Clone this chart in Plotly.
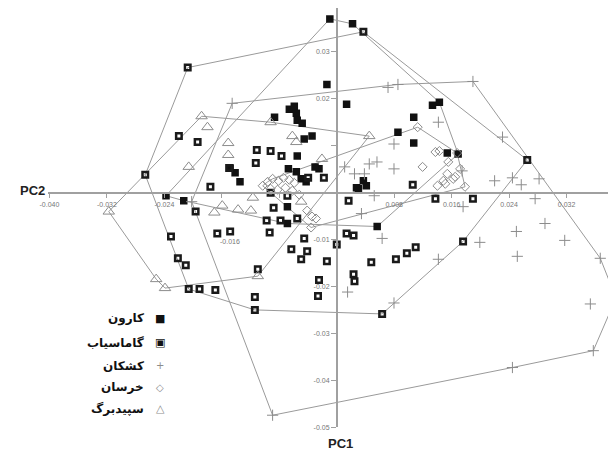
import plotly.graph_objects as go

# ---- data (PC2 on horizontal axis, PC1 on vertical axis) ----
karun_x = [-0.00096, 0.0022, -0.00137, 0.00137, 0.01333, 0.01429, 0.01072, 0.00852, 0.01072,
           0.01539, 0.0169, 0.00371, 0.00302, 0.00412, 0.00275, -0.00247, -0.00302, -0.00426,
           -0.0066, -0.00591, -0.00563, -0.0055, -0.00481, -0.00866, -0.00453, -0.00344,
           -0.0055, -0.00673, -0.00563, -0.00495, -0.01484, -0.01415, -0.01347, -0.02377,
           -0.0213, -0.00687, -0.00687, 0.00563]
karun_y = [0.03698, 0.03592, 0.02301, 0.01878, 0.01857, 0.0192, 0.01603, 0.01285, 0.01053,
           0.00841, 0.0082, 0.00249, 0.00079, 0.00143, 0.001, 0.00503, 0.00545, 0.00227,
           0.01772, 0.01836, 0.01688, 0.01539, 0.01476, 0.01603, 0.01137, 0.01201,
           0.00778, 0.00503, 0.00439, 0.00291, 0.00524, 0.00418, 0.00227, -0.00069,
           -0.00175, -0.00302, -0.00661, -0.00725]

gamasiab_x = [-0.02075, 0.00371, 0.02652, -0.02198, -0.01937, -0.02666, -0.01759, -0.01965,
              -0.01113, -0.00921, -0.01127, -0.00769, -0.01498, -0.00921, -0.00879, -0.00976,
              -0.00783, -0.0055, -0.00398, -0.00179, -0.02308, -0.02212, -0.02102, -0.02061,
              -0.0191, -0.0169, -0.0114, -0.0114, -0.01099, -0.01663, -0.01484, -0.00934,
              -0.00453, -0.00632, -0.00412, -0.00495, 0.00165, -0.00137, 0.0, 0.00137,
              0.00234, 0.00481, 0.00824, 0.00976, 0.01099, 0.01759, 0.00234, 0.00247,
              -0.00247, -0.00261, 0.00632, 0.01058, 0.01896, 0.01374, -0.00687]
gamasiab_y = [0.02661, 0.03423, 0.00693, 0.01201, 0.01074, 0.00376, 0.00122, -0.00407,
              0.00905, 0.00883, 0.0063, 0.00778, 0.00524, -0.00005, -0.00323, -0.00598,
              -0.00598, -0.00555, 0.00312, 0.00312, -0.00936, -0.01402, -0.0155, -0.02058,
              -0.02058, -0.02079, -0.02227, -0.02502, -0.01635, -0.00873, -0.00831, -0.00852,
              -0.00979, -0.01211, -0.01254, -0.01423, -0.00175, -0.01465, -0.01106, -0.00873,
              -0.00915, -0.01486, -0.01423, -0.01296, -0.01169, -0.01042, -0.0174, -0.01889,
              -0.01867, -0.02206, -0.02587, 0.00164, -0.00132, -0.00132, -0.00069]

kashkan_x = [-0.01456, 0.01896, 0.03888, 0.03572, -0.00893, -0.0202, 0.00714, 0.00852, 0.01415,
             0.02308, 0.00797, 0.0011, 0.00247, 0.00385, 0.00453, 0.02198, 0.02446, 0.02569,
             0.02817, 0.01745, 0.00522, 0.02762, 0.02899, 0.01759, 0.02501, 0.01992, 0.02514,
             0.03174, 0.03669, 0.03531, 0.01415, 0.00797, 0.00151, 0.00632, 0.02446, 0.00344,
             0.00797, 0.0056]
kashkan_y = [0.01899, 0.02365, -0.02248, -0.0337, -0.04745, -0.00196, 0.02238, 0.02301, 0.01497,
             0.0118, 0.01032, 0.00545, 0.00397, 0.00397, 0.00608, 0.00249, 0.00312, 0.00164,
             0.00291, 0.0046, -0.00069, -0.00132, -0.00661, -0.00302, -0.00831, -0.01063, -0.0136,
             -0.01021, -0.01402, -0.02375, -0.01423, -0.02354, -0.02121, -0.00979, -0.03729, -0.0045,
             0.00503, 0.0065]

khersan_x = [-0.01031, -0.00962, -0.00893, -0.00811, -0.00742, -0.0066, -0.00591, -0.00921,
             -0.00824, -0.00714, -0.00618, -0.00522, -0.00412, -0.00289, -0.00357, -0.00344,
             0.01127, 0.01195, 0.01374, 0.01429, 0.01553, 0.01718, 0.01539, 0.01621, 0.01484,
             0.01402, 0.01511, 0.01786, 0.01676, 0.01649]
khersan_y = [0.00143, 0.00227, 0.00291, 0.00249, 0.00312, 0.0027, 0.00206, 0.00079,
             0.00058, 0.001, 0.00037, -0.00048, -0.00386, -0.00555, -0.00746, -0.00513,
             0.01391, 0.00545, 0.00862, 0.00883, 0.00651, 0.00503, 0.00397, 0.00291, 0.00249,
             0.00143, 0.00185, 0.00122, 0.00841, 0.00333]

sepidbarg_x = [-0.01882, -0.018, -0.01511, -0.01511, -0.02061, -0.00921, -0.00618, -0.00563,
               0.00453, -0.01168, -0.01374, -0.01195, -0.01594, -0.01704, -0.03174, -0.02514,
               -0.02391, -0.01099, -0.00495, -0.00206]
sepidbarg_y = [0.01624, 0.01391, 0.01053, 0.00799, 0.00545, 0.01497, 0.01201, 0.01074,
               0.01201, -0.00111, -0.00365, -0.00386, -0.0028, -0.00428, -0.00407, -0.01846,
               -0.02037, -0.01783, -0.00196, 0.00714]

group_names = ["کارون", "گاماسیاب", "کشکان", "خرسان", "سپیدبرگ"]

x_tickvals = [-0.040, -0.032, -0.024, -0.016, -0.008, 0.008, 0.016, 0.024, 0.032]
x_ticktext = ["-0.040", "-0.032", "-0.024", "", "", "0.008", "0.016", "0.024", "0.032"]
y_tickvals = [0.03, 0.02, 0.01, -0.01, -0.02, -0.03, -0.04, -0.05]
y_ticktext = ["0.03", "0.02", "", "-0.01", "-0.02", "-0.03", "-0.04", "-0.05"]


def convex_hull(xs, ys):
    pts = sorted(set(zip(xs, ys)))

    def cross(o, a, b):
        return (a[0] - o[0]) * (b[1] - o[1]) - (a[1] - o[1]) * (b[0] - o[0])

    lower = []
    for p in pts:
        while len(lower) >= 2 and cross(lower[-2], lower[-1], p) <= 0:
            lower.pop()
        lower.append(p)
    upper = []
    for p in reversed(pts):
        while len(upper) >= 2 and cross(upper[-2], upper[-1], p) <= 0:
            upper.pop()
        upper.append(p)
    h = lower[:-1] + upper[:-1]
    h.append(h[0])
    return [p[0] for p in h], [p[1] for p in h]


groups = [
    (karun_x, karun_y, dict(symbol="square", size=7.5, color="#111111", line=dict(width=0))),
    (gamasiab_x, gamasiab_y, dict(symbol="square-open", size=5.5, color="#1a1a1a", line=dict(width=2.5))),
    (kashkan_x, kashkan_y, dict(symbol="cross-thin-open", size=8, color="#8c8c8c", line=dict(width=1))),
    (khersan_x, khersan_y, dict(symbol="diamond-open", size=7, color="#8c8c8c", line=dict(width=1))),
    (sepidbarg_x, sepidbarg_y, dict(symbol="triangle-up-open", size=10, color="#8c8c8c", line=dict(width=1))),
]

fig = go.Figure()
for (gx, gy, _), name in zip(groups, group_names):
    hx, hy = convex_hull(gx, gy)
    fig.add_trace(go.Scatter(x=hx, y=hy, mode="lines", line=dict(color="#9a9a9a", width=1),
                             hoverinfo="skip", showlegend=False, cliponaxis=False))
for (gx, gy, mk), name in zip(groups, group_names):
    fig.add_trace(go.Scatter(x=gx, y=gy, mode="markers", marker=mk, name=name, showlegend=False))

W, H = 608, 449  # page body adds an 8px margin


def px(xp):
    return (xp - 8) / W


def py(yp):
    return (H - (yp - 8)) / H


tick_font = dict(family="Liberation Sans", size=7, color="#777777")
fig.update_layout(
    width=W, height=H,
    margin=dict(l=0, r=0, t=0, b=0),
    paper_bgcolor="white", plot_bgcolor="white",
    showlegend=False,
    xaxis=dict(domain=[px(40), 1], range=[-0.04026, 0.03888], anchor="free", position=py(193.75),
               showline=True, linecolor="#a0a0a0", linewidth=1.5, ticks="outside", ticklen=5,
               tickcolor="#a0a0a0", tickvals=x_tickvals, ticktext=x_ticktext, tickfont=tick_font,
               showgrid=False, zeroline=False),
    yaxis=dict(domain=[py(430), 1], range=[-0.05, 0.0393], anchor="free", position=px(333),
               showline=True, linecolor="#a0a0a0", linewidth=1.5, ticks="outside", ticklen=5,
               tickcolor="#a0a0a0", tickvals=y_tickvals, ticktext=y_ticktext, tickfont=tick_font,
               showgrid=False, zeroline=False),
)

annotations = [
    dict(text="<b>PC2</b>", xref="paper", yref="paper", x=px(25), y=py(192),
         xanchor="center", yanchor="middle",
         showarrow=False, font=dict(family="Liberation Sans", size=13, color="#222")),
    dict(text="<b>PC1</b>", xref="paper", yref="paper", x=px(337), y=py(446),
         xanchor="center", yanchor="middle",
         showarrow=False, font=dict(family="Liberation Sans", size=13, color="#222")),
    dict(text="-0.016", xref="x", yref="y", x=-0.01484, y=-0.01042, showarrow=False,
         xanchor="center", yanchor="middle", font=tick_font),
]
legend_rows = [321, 345, 368, 390, 411]
legend_syms = [("■", "#111", 11), ("▣", "#111", 11), ("+", "#8c8c8c", 10), ("◇", "#8c8c8c", 10), ("△", "#8c8c8c", 11)]
for name, ypix, (sym, col, sz) in zip(group_names, legend_rows, legend_syms):
    annotations.append(dict(text="<b>" + name + "</b>", xref="paper", yref="paper", x=px(140),
                            y=py(ypix), xanchor="right", yanchor="middle", showarrow=False,
                            font=dict(family="DejaVu Sans", size=12, color="#111")))
    annotations.append(dict(text=sym, xref="paper", yref="paper", x=px(154),
                            y=py(ypix), xanchor="center", yanchor="middle", showarrow=False,
                            font=dict(family="DejaVu Sans", size=sz, color=col)))
fig.update_layout(annotations=annotations)

fig.write_html("out.html")
